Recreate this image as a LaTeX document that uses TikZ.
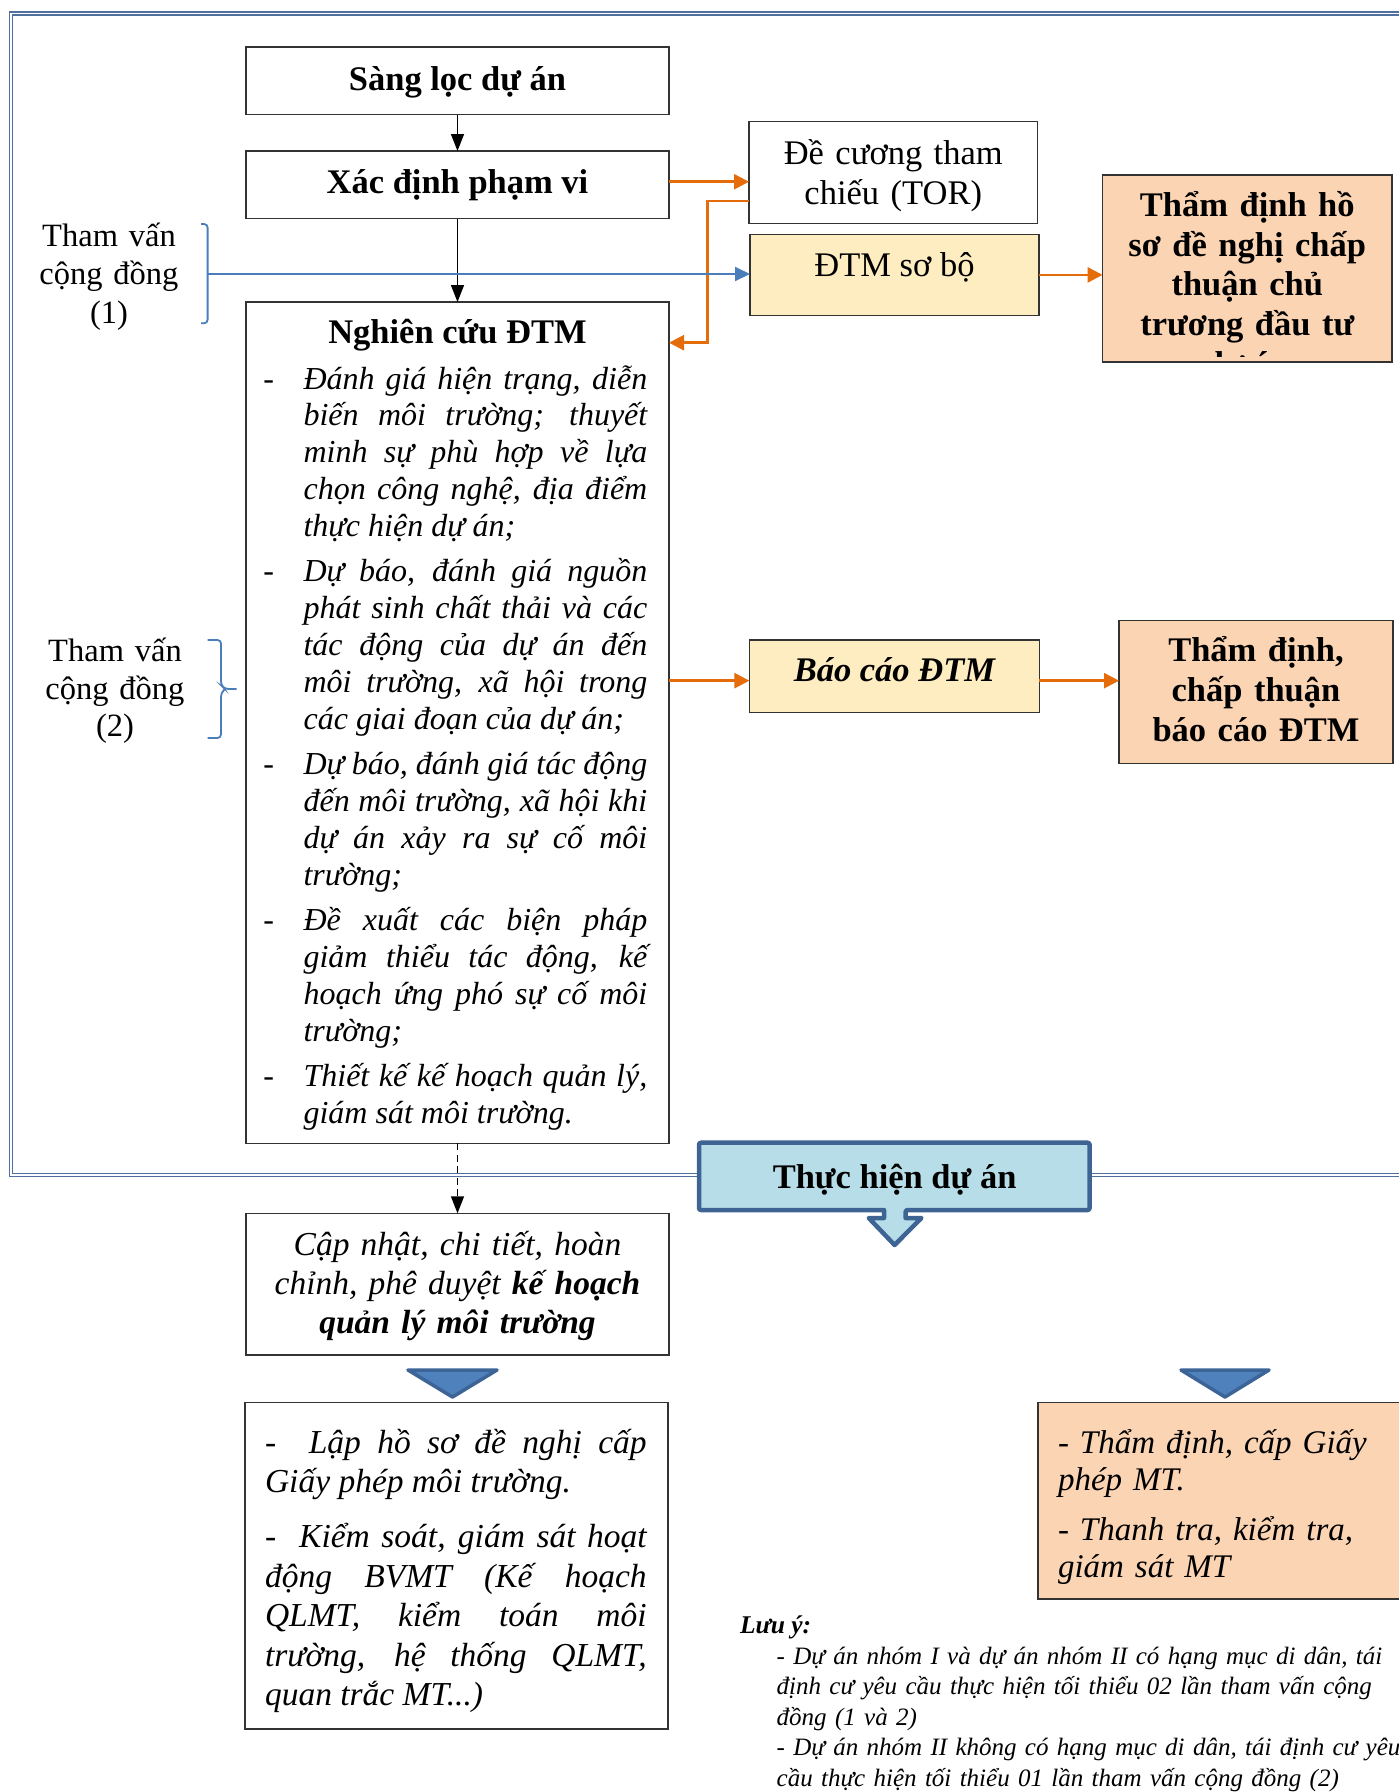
\documentclass[tikz,border=0pt]{standalone}
\usepackage{fontspec}
\setmainfont{Liberation Serif}
\usetikzlibrary{arrows.meta}

\definecolor{frameblue}{HTML}{4F6F9F}
\definecolor{linkblue}{HTML}{4A7EBB}
\definecolor{flow}{HTML}{E46C0A}
\definecolor{paleyellow}{HTML}{FFEDC2}
\definecolor{peach}{HTML}{FBD4B4}
\definecolor{callfill}{HTML}{B7DEE8}
\definecolor{calledge}{HTML}{3E6494}
\definecolor{trifill}{HTML}{4F81BD}
\definecolor{triedge}{HTML}{3C6496}
\definecolor{boxedge}{HTML}{333333}

\newcommand\fbig{\fontsize{34.5}{40}\selectfont}
\newcommand\itm[1]{\noindent\llap{\makebox[40.2pt][l]{-}}#1\par}

\begin{document}
\begin{tikzpicture}[x=1pt,y=-1pt,
  box/.style={draw=boxedge, line width=1.5pt, inner sep=0pt, outer sep=0pt},
  org/.style={draw=flow, line width=2.6pt, -{Triangle[length=15pt,width=15pt]}},
  blu/.style={draw=linkblue, line width=2pt, -{Triangle[length=15pt,width=14pt]}},
  blk/.style={draw=black, line width=1.5pt, -{Triangle[length=17pt,width=13pt]}},
  brace/.style={draw=linkblue, line width=1.8pt, rounded corners=3.5pt},
  txt/.style={inner sep=0pt, outer sep=0pt},
  tri/.style={fill=trifill, draw=triedge, line width=3.5pt, line join=round},
]
\useasboundingbox (0,0) rectangle (1399,1792);

% outer double frame of the study phase
\draw[draw=frameblue, double=white, double distance=1.3pt, line width=1.7pt]
  (1420,13.5) -- (11,13.5) -- (11,1175) -- (1420,1175);

% boxes
\node[box, minimum width=423pt, minimum height=67.5pt] (sang) at (457.5,80.75) {};
\node[box, minimum width=423pt, minimum height=67.5pt] (xac) at (457.5,184.75) {};
\node[box, minimum width=288.5pt, minimum height=101.6pt] (tor) at (893.25,172.5) {};
\node[box, fill=paleyellow, minimum width=289pt, minimum height=81.2pt] (sobo) at (894.5,274.9) {};
\node[box, fill=peach, minimum width=289.4pt, minimum height=187pt] (thd1) at (1247.3,268.5) {};
\node[box, minimum width=423pt, minimum height=841.3pt] (ncuu) at (457.5,722.65) {};
\node[box, fill=paleyellow, minimum width=290pt, minimum height=72.3pt] (bcao) at (894.4,676.15) {};
\node[box, fill=peach, minimum width=274pt, minimum height=142.6pt] (thd2) at (1256,692) {};
\node[box, minimum width=423pt, minimum height=141.7pt] (capn) at (457.5,1284.15) {};
\node[box, minimum width=423pt, minimum height=326.5pt] (lap) at (456.5,1565.75) {};
\node[box, fill=peach, minimum width=382pt, minimum height=196.3pt] (cap) at (1229,1500.85) {};

% texts
\node[txt, anchor=base, font=\fbig\bfseries] (t-sang) at (457.5,90) {Sàng lọc dự án};
\node[txt, anchor=base, font=\fbig\bfseries] (t-xac) at (457.5,193.3) {Xác định phạm vi};
\node[txt, anchor=base, font=\fbig\bfseries] (t-ncuu) at (457.5,343.3) {Nghiên cứu ĐTM};
\node[txt, anchor=base, text width=280pt, align=center, font=\fbig] (t-tor) at (893.25,164) {Đề cương tham\\chiếu (TOR)};
\node[txt, anchor=base, font=\fbig] (t-sobo) at (894.5,276.7) {ĐTM sơ bộ};
\node[txt, anchor=base, text width=285pt, align=center, font=\fontsize{34.5}{39.5}\selectfont\bfseries] (t-thd1) at (1247.3,216.7)
  {Thẩm định hồ\\sơ đề nghị chấp\\thuận chủ\\trương đầu tư};
\begin{scope}
  \clip (1102.6,175) rectangle (1392,356);
  \node[txt, anchor=base, font=\fbig\bfseries] (t-thd1b) at (1247.3,375) {dự án};
\end{scope}
\node[txt, anchor=base, font=\fbig\bfseries\itshape] (t-bcao) at (894.4,681.7) {Báo cáo ĐTM};
\node[txt, anchor=base, text width=270pt, align=center, font=\fbig\bfseries] (t-thd2) at (1256,661.7)
  {Thẩm định,\\chấp thuận\\báo cáo ĐTM};
\node[txt, anchor=base, text width=180pt, align=center, font=\fontsize{32.5}{38.2}\selectfont] (t-tv1) at (109,246.7)
  {Tham vấn\\cộng đồng\\(1)};
\node[txt, anchor=base, text width=180pt, align=center, font=\fontsize{32.5}{37.5}\selectfont] (t-tv2) at (115,661.7)
  {Tham vấn\\cộng đồng\\(2)};

% study items
\node[txt, anchor=base west, text width=343.7pt, align=justify,
      font=\fontsize{32}{36.86}\selectfont\itshape] (t-items) at (303.6,389) {%
  \setlength{\parskip}{8.5pt}\hyphenpenalty=10000 \emergencystretch=20pt
  \itm{Đánh giá hiện trạng, diễn\linebreak biến môi trường; thuyết\linebreak minh sự phù hợp về lựa\linebreak chọn công nghệ, địa điểm\linebreak thực hiện dự án;}
  \itm{Dự báo, đánh giá nguồn\linebreak phát sinh chất thải và các\linebreak tác động của dự án đến\linebreak môi trường, xã hội trong\linebreak các giai đoạn của dự án;}
  \itm{Dự báo, đánh giá tác động\linebreak đến môi trường, xã hội khi\linebreak dự án xảy ra sự cố môi\linebreak trường;}
  \itm{Đề xuất các biện pháp\linebreak giảm thiểu tác động, kế\linebreak hoạch ứng phó sự cố môi\linebreak trường;}
  \itm{Thiết kế kế hoạch quản lý,\linebreak giám sát môi trường.}};

\node[txt, anchor=base, text width=410pt, align=center, font=\fontsize{33.5}{39.2}\selectfont\itshape] (t-capn) at (457.5,1255)
  {Cập nhật, chi tiết, hoàn\\chỉnh, phê duyệt \textbf{kế hoạch}\\\textbf{quản lý môi trường}};

\node[txt, anchor=base west, text width=381.7pt, align=justify,
      font=\fontsize{33.5}{39.5}\selectfont\itshape] (t-lap) at (265,1453.3) {%
  \setlength{\parskip}{15.5pt}\hyphenpenalty=10000 \emergencystretch=20pt
  \noindent -\ \ Lập hồ sơ đề nghị cấp\linebreak Giấy phép môi trường.\par
  \noindent -\ \ Kiểm soát, giám sát hoạt\linebreak động BVMT (Kế hoạch\linebreak QLMT, kiểm toán môi\linebreak trường, hệ thống QLMT,\linebreak quan trắc MT...)\par};

\node[txt, anchor=base west, text width=330pt, align=left, font=\fontsize{33}{37}\selectfont\itshape] (t-cap) at (1058,1453) {%
  \setlength{\parskip}{13pt}%
  - Thẩm định, cấp Giấy\\phép MT.\par - Thanh tra, kiểm tra,\\giám sát MT};

\node[txt, anchor=base west, font=\fontsize{25.5}{30.6}\selectfont\bfseries\itshape] (t-luu) at (740,1633.5) {Lưu ý:};
\node[txt, anchor=base west, text width=700pt, align=left, font=\fontsize{25}{30.6}\selectfont\itshape] (t-note) at (776.7,1664) {%
  - Dự án nhóm I và dự án nhóm II có hạng mục di dân, tái\\
  định cư yêu cầu thực hiện tối thiểu 02 lần tham vấn cộng\\
  đồng (1 và 2)\\
  - Dự án nhóm II không có hạng mục di dân, tái định cư yêu\\
  cầu thực hiện tối thiểu 01 lần tham vấn cộng đồng (2)};

% braces for the consultations
\coordinate (tv1) at (207.6,274);
\draw[brace] (201,224) -- (207.6,224) -- (207.6,323.3) -- (201,323.3);
\draw[brace] (207.6,640) -- (221,640) -- (221,685) -- (225,689) -- (236.6,689);
\draw[brace] (207.6,738) -- (221,738) -- (221,693) -- (225,689);

% connectors
\draw[blk] (sang.south) -- (xac.north);
\draw[blk] (xac.south) -- (ncuu.north);
\draw[org] ([yshift=3pt]xac.east) -- ([yshift=3pt]xac.east -| tor.west);
\draw[org] ([yshift=-28.5pt]tor.west) -- ++(-41.3,0) |- ([yshift=-40.7pt]ncuu.north east);
\draw[blu] (tv1) -- (tv1 -| sobo.west);
\draw[org] (sobo.east) -- (sobo.east -| thd1.west);
\draw[org] ([yshift=-4.5pt]bcao.west -| ncuu.east) -- ([yshift=-4.5pt]bcao.west);
\draw[org] ([yshift=-4.5pt]bcao.east) -- ([yshift=-4.5pt]bcao.east -| thd2.west);
\draw[blk, dash pattern=on 7pt off 4.5pt] (ncuu.south) -- (capn.north);

% implementation callout with its down arrow
\draw[fill=callfill, draw=calledge, line width=4.5pt, line join=round, rounded corners=2pt]
  (699,1142.7) -- (1089.6,1142.7) -- (1089.6,1210) -- (905.6,1210) [sharp corners] -- (905.6,1218)
  -- (921.4,1218) -- (894.6,1245) -- (868.8,1218) -- (884,1218) -- (884,1210) [rounded corners=2pt] -- (699,1210) -- cycle;
\node[txt, anchor=base, font=\fbig\bfseries] (t-thuc) at (894.6,1188.3) {Thực hiện dự án};

% small down markers
\draw[tri] (408,1370) -- (497,1370) -- (452.5,1397) -- cycle;
\draw[tri] (1181,1370) -- (1269,1370) -- (1225,1397) -- cycle;
\end{tikzpicture}
\end{document}
